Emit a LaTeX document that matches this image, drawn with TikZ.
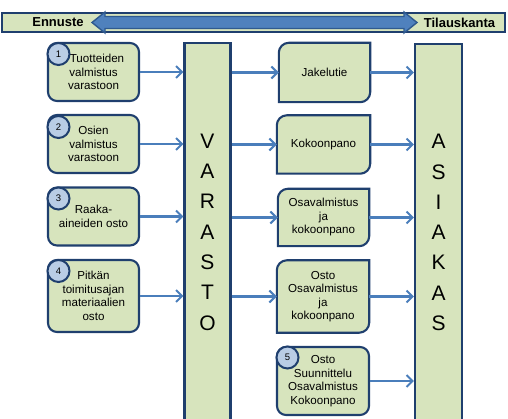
\documentclass[tikz,border=0pt]{standalone}
\usepackage{fontspec}
\setmainfont{Liberation Sans}
\usetikzlibrary{arrows.meta,backgrounds}
\definecolor{boxfill}{HTML}{D7E4BD}
\definecolor{navy}{HTML}{1F3F6E}
\definecolor{arr}{HTML}{4A7EBB}
\definecolor{circfill}{HTML}{B9CDE5}
\definecolor{bigarr}{HTML}{4F81BD}
\definecolor{bigarrline}{HTML}{2F5A8F}
\newcommand\diagshape[1]{%
  \filldraw[shapeline] (#1.north) -- (#1.north east) -- ([yshift=10pt]#1.south east)
    arc[start angle=0,end angle=-90,radius=10pt] -- (#1.south west)
    -- ([yshift=-10pt]#1.north west) arc[start angle=180,end angle=90,radius=10pt] -- cycle;}
\begin{document}
\begin{tikzpicture}[x=1pt,y=1pt,
  txt/.style={align=center, inner sep=0pt, font=\fontsize{11.6}{13.5}\selectfont},
  shapeline/.style={draw=navy, line width=2.1pt, fill=boxfill},
  box/.style={txt, shapeline, rounded corners=9pt},
  dbox/.style={txt},
  col/.style={shapeline, inner sep=0pt},
  colletters/.style={align=center, inner sep=0pt, font=\fontsize{21}{30.3}\selectfont},
  num/.style={circle, draw=navy, line width=2pt, fill=circfill, minimum size=22pt, inner sep=0pt, font=\fontsize{9.5}{10}\selectfont},
  flow/.style={draw=arr, line width=2.2pt, -{Straight Barb[length=6pt,width=12pt,line width=2pt]}},
  head/.style={font=\bfseries\fontsize{13}{15}\selectfont, inner sep=0pt}
]
\useasboundingbox (0,0) rectangle (508,-419);

% top bar
\node[shapeline, minimum width=503pt, minimum height=19pt, inner sep=0pt] (bar) at (253.5,-22.5) {};
\node[head] (ennuste) at (58,-22.5) {Ennuste};
\node[head] (tilaus) at (459.5,-22.5) {Tilauskanta};
\filldraw[draw=bigarrline, fill=bigarr, line width=1.4pt]
  (92,-22.5) -- (105,-12) -- (105,-16.5) -- (404,-16.5) -- (404,-12) -- (417,-22.5)
  -- (404,-33) -- (404,-28.5) -- (105,-28.5) -- (105,-33) -- cycle;

% left boxes
\node[box, minimum width=91pt, minimum height=58pt] (b1) at (93.5,-72) {\hspace*{7pt}Tuotteiden\\valmistus\\varastoon};
\node[box, minimum width=91pt, minimum height=58pt] (b2) at (93.5,-144) {Osien\\valmistus\\varastoon};
\node[box, minimum width=91pt, minimum height=58pt] (b3) at (93.5,-216.5) {Raaka-\\aineiden osto};
\node[box, minimum width=91pt, minimum height=72pt] (b4) at (93.5,-296) {Pitkän\\toimitusajan\\materiaalien\\osto};
\node[num] (n1) at (58.5,-54) {1};
\node[num] (n2) at (58.5,-127) {2};
\node[num] (n3) at (58.5,-198.5) {3};
\node[num] (n4) at (58.5,-271) {4};

% columns
\node[col, minimum width=46pt, minimum height=378pt] (varasto) at (207.5,-232) {};
\node[colletters] (vtext) at (207.5,-232) {V\\A\\R\\A\\S\\T\\O};
\node[col, minimum width=47pt, minimum height=377pt] (asiakas) at (438.5,-232.5) {};
\node[colletters] (atext) at (438.5,-232.5) {A\\S\\I\\A\\K\\A\\S};

% right boxes
\node[dbox, minimum width=91pt, minimum height=59pt] (j) at (324.5,-72.5) {Jakelutie};
\node[dbox, minimum width=93pt, minimum height=58pt] (k) at (323.5,-144.5) {Kokoonpano};
\node[dbox, minimum width=91pt, minimum height=57pt] (o1) at (323.5,-217.5) {Osavalmistus\\ja\\kokoonpano};
\node[dbox, minimum width=92pt, minimum height=72pt] (o2) at (323,-296.5) {Osto\\Osavalmistus\\ja\\kokoonpano};
\node[box, minimum width=92pt, minimum height=68pt] (b5) at (323,-381) {Osto\\Suunnittelu\\Osavalmistus\\Kokoonpano};
\node[num] (n5) at (287.5,-357.5) {5};
\begin{scope}[on background layer]
  \diagshape{j}
  \diagshape{k}
  \diagshape{o1}
  \diagshape{o2}
\end{scope}

% connectors
\draw[flow] (b1.east) -- (b1.east -| varasto.west);
\draw[flow] (b2.east) -- (b2.east -| varasto.west);
\draw[flow] (b3.east) -- (b3.east -| varasto.west);
\draw[flow] (b4.east) -- (b4.east -| varasto.west);
\draw[flow] (j.west -| varasto.east) -- (j.west);
\draw[flow] (k.west -| varasto.east) -- (k.west);
\draw[flow] (o1.west -| varasto.east) -- (o1.west);
\draw[flow] (o2.west -| varasto.east) -- (o2.west);
\draw[flow] (j.east) -- (j.east -| asiakas.west);
\draw[flow] (k.east) -- (k.east -| asiakas.west);
\draw[flow] (o1.east) -- (o1.east -| asiakas.west);
\draw[flow] (o2.east) -- (o2.east -| asiakas.west);
\draw[flow] (b5.east) -- (b5.east -| asiakas.west);
\end{tikzpicture}
\end{document}
